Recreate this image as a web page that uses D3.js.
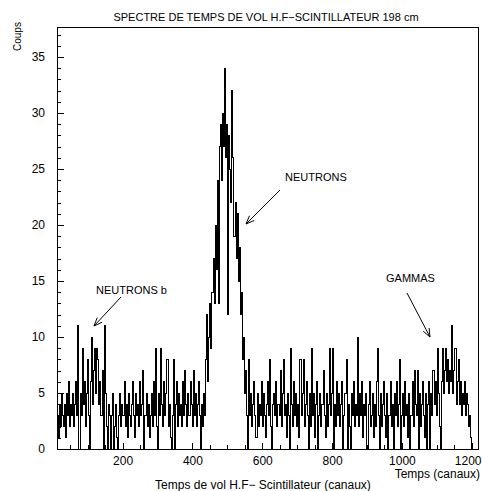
<!DOCTYPE html>
<html>
<head>
<meta charset="utf-8">
<script src="https://cdn.jsdelivr.net/npm/d3@7/dist/d3.min.js"></script>
<style>
  html, body { margin: 0; padding: 0; background: #fff; }
  svg { display: block; }
  text { font-family: "Liberation Sans", Arial, Helvetica, sans-serif; fill: #000; }
</style>
</head>
<body>
<svg id="chart" width="482" height="491"></svg>
<script>
// ---- data (counts per 3-channel bin) ----
const firstChannel = 12;
const binWidth = 3;

// background before the neutron peak (channels 12 - 432)
const segA = [
  3,1,4,2,5,3,2,4,1,5,3,6,2,4,3,5,2,
  4,6,3,11,0,5,3,9,4,6,2,5,8,3,0,6,10,4,7,9,5,9,8,4,6,3,7,0,11,5,2,0,4,3,
  0,3,5,0,2,4,1,0,3,5,
  2,4,3,6,2,4,1,5,3,2,
  4,6,3,1,5,3,4,2,6,3,
  4,7,0,3,5,2,4,1,3,5,
  2,6,3,9,2,0,5,3,9,4,
  2,6,3,5,8,2,4,1,0,3,
  8,0,4,6,2,5,3,4,2,6,
  3,7,4,2,5,3,6,4,2,7,
  3,5,2,4,6,3,0,4,2
];

// neutron peak (channels 432 - 558)
const peak = [
  5,3,8,12,6,10,13,9,14,17,
  13,20,16,24,13,27,29,24,30,27,
  34,26,29,12,28,25,22,32,26,19,
  22,17,21,15,18,12,14,8,10,5,
  7,3
];

// background between the peaks (channels 558 - 1071)
const segB = [
  0,8,3,5,2,4,6,3,1,5,
  2,4,3,6,2,5,3,1,4,6,
  3,8,2,0,4,5,3,6,2,4,
  3,7,2,5,8,3,4,1,5,3,
  0,9,4,2,6,3,5,2,4,1,
  8,3,5,8,2,4,6,3,0,5,
  2,9,3,5,1,4,6,0,3,5,
  2,4,7,3,1,5,2,4,9,3,
  5,9,0,4,2,6,3,5,2,4,
  6,0,3,5,8,0,4,2,0,5,
  3,6,2,4,3,10,2,5,3,6,
  1,4,3,5,0,4,6,2,3,5,
  1,4,2,6,9,3,0,5,2,4,
  6,3,1,5,0,3,6,2,4,0,
  5,3,6,2,4,8,0,3,5,2,
  6,3,4,1,5,0,3,6,2,7,
  4,3,7,0,5,2,4,6,3,1,
  5
];

// gamma region (channels 1071 - 1200)
const gamma = [
  0,4,6,0,5,3,7,4,6,3,
  9,5,2,0,6,9,5,7,9,6,
  8,5,7,6,11,5,7,9,4,6,
  8,4,6,3,5,4,6,3,5,4,
  2,3,1
];

const xMajorTicks = [200, 400, 600, 800, 1000, 1200];
const yMajorTicks = [0, 5, 10, 15, 20, 25, 30, 35];

const titleText = "SPECTRE DE TEMPS DE VOL H.F\u2212SCINTILLATEUR 198 cm";
const yLabel = "Coups";
const xLabel = "Temps de vol H.F\u2212 Scintillateur (canaux)";
const xLabelRight = "Temps (canaux)";

const notes = [
  { text: "NEUTRONS", tx: 285, ty: 181, from: [280, 190], to: [246, 224] },
  { text: "NEUTRONS b", tx: 96, ty: 294, from: [121, 297], to: [94, 326] },
  { text: "GAMMAS", tx: 386, ty: 282, from: [407, 293], to: [430, 337] }
];

// ---- drawing ----
const counts = segA.concat(peak, segB, gamma);
const svg = d3.select("#chart");
const L = 57, R = 478, T = 27, B = 449;

const x = d3.scaleLinear().domain([12, 1218]).range([L, R]);
const y = d3.scaleLinear().domain([0, 37.68]).range([B, T]);

// histogram as step line
const pts = [{ c: firstChannel, v: 0 }];
counts.forEach((v, i) => pts.push({ c: firstChannel + i * binWidth, v }));
pts.push({ c: firstChannel + counts.length * binWidth, v: 0 });

const line = d3.line().x(d => x(d.c)).y(d => y(d.v)).curve(d3.curveStepAfter);
svg.append("path")
  .datum(pts)
  .attr("d", line)
  .attr("fill", "none")
  .attr("stroke", "#000")
  .attr("stroke-width", 1)
  .attr("shape-rendering", "crispEdges");

// axes (ticks pointing inward)
const xMinor = d3.range(50, 1218, 50).filter(v => v % 200 !== 0);
const gx = svg.append("g").attr("transform", `translate(0,${B})`);
gx.call(d3.axisBottom(x).tickValues(xMinor).tickSize(-4).tickFormat(""));
gx.call(g => g.select(".domain").remove());
const gx2 = svg.append("g").attr("transform", `translate(0,${B})`);
gx2.call(d3.axisBottom(x).tickValues(xMajorTicks).tickSize(-6).tickPadding(7).tickFormat(d3.format("d")));
gx2.call(g => g.select(".domain").remove());
gx2.selectAll("text").style("font-size", "12px");
// last label sits against the right edge, as in the reference
gx2.selectAll(".tick").filter(d => d === 1200).select("text")
  .attr("text-anchor", "end").attr("x", 481 - x(1200));

const yMinor = d3.range(1, 38).filter(v => v % 5 !== 0);
const gy = svg.append("g").attr("transform", `translate(${L},0)`);
gy.call(d3.axisLeft(y).tickValues(yMinor).tickSize(-4).tickFormat(""));
gy.call(g => g.select(".domain").remove());
const gy2 = svg.append("g").attr("transform", `translate(${L},0)`);
gy2.call(d3.axisLeft(y).tickValues(yMajorTicks).tickSize(-7).tickPadding(12));
gy2.call(g => g.select(".domain").remove());
gy2.selectAll("text").style("font-size", "12px");

svg.selectAll(".tick line").attr("stroke", "#000").attr("shape-rendering", "crispEdges");

// frame
svg.append("rect")
  .attr("x", L).attr("y", T).attr("width", R - L).attr("height", B - T)
  .attr("fill", "none").attr("stroke", "#000").attr("stroke-width", 1)
  .attr("shape-rendering", "crispEdges");

// texts
svg.append("text").attr("x", 266).attr("y", 21).attr("text-anchor", "middle")
  .style("font-size", "11px").text(titleText);
svg.append("text").attr("transform", "translate(21,51) rotate(-90)")
  .attr("text-anchor", "start").style("font-size", "10px").text(yLabel);
svg.append("text").attr("x", 263).attr("y", 489).attr("text-anchor", "middle")
  .style("font-size", "12px").text(xLabel);
svg.append("text").attr("x", 480).attr("y", 478).attr("text-anchor", "end")
  .style("font-size", "12px").text(xLabelRight);

// annotations with open arrowheads
notes.forEach(n => {
  svg.append("text").attr("x", n.tx).attr("y", n.ty).style("font-size", "11px").text(n.text);
  svg.append("line")
    .attr("x1", n.from[0]).attr("y1", n.from[1]).attr("x2", n.to[0]).attr("y2", n.to[1])
    .attr("stroke", "#000").attr("stroke-width", 1);
  const ang = Math.atan2(n.from[1] - n.to[1], n.from[0] - n.to[0]);
  const len = 9, spread = 0.38;
  [ang - spread, ang + spread].forEach(a => {
    svg.append("line")
      .attr("x1", n.to[0]).attr("y1", n.to[1])
      .attr("x2", n.to[0] + len * Math.cos(a)).attr("y2", n.to[1] + len * Math.sin(a))
      .attr("stroke", "#000").attr("stroke-width", 1);
  });
});
</script>
</body>
</html>
